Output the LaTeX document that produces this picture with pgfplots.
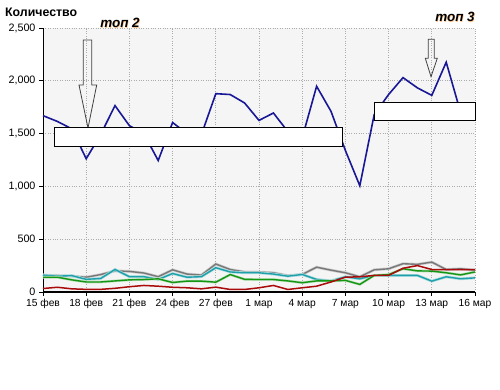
\documentclass[border=0pt]{standalone}
\usepackage{pgfplots}
\usepackage{pgfplotstable}
\pgfplotsset{compat=1.18}
\usepackage{fontspec}
\setmainfont{Liberation Sans}
\definecolor{cblue}{RGB}{24,24,150}
\definecolor{cgray}{RGB}{120,120,120}
\definecolor{cteal}{RGB}{30,160,170}
\definecolor{cgreen}{RGB}{20,150,20}
\definecolor{cred}{RGB}{170,10,10}
\definecolor{bg}{RGB}{245,245,245}
\pgfplotstableread{
d blue gray teal green red
0 1670 160 160 140 33
1 1615 155 150 140 45
2 1545 150 155 115 30
3 1262 140 120 95 25
4 1490 165 128 95 25
5 1765 200 213 105 35
6 1575 195 145 115 50
7 1500 180 145 118 62
8 1245 145 119 125 55
9 1605 210 175 90 45
10 1500 170 140 103 40
11 1490 160 145 103 30
12 1878 265 230 93 46
13 1870 213 190 165 24
14 1790 190 182 120 24
15 1625 188 182 118 40
16 1695 182 170 118 62
17 1520 155 150 105 24
18 1460 166 166 88 40
19 1948 235 119 105 55
20 1711 207 105 105 95
21 1340 182 144 110 140
22 1006 144 125 72 144
23 1680 210 157 157 157
24 1870 220 157 165 157
25 2030 268 157 220 225
26 1933 262 157 200 250
27 1862 283 103 198 213
28 2176 213 144 182 213
29 1700 220 125 162 213
30 1720 207 134 190 213
}\datatable
\begin{document}
\begin{tikzpicture}[x=1bp,y=1bp]
\path[use as bounding box] (0,0) rectangle (500,389);
\begin{axis}[
  at={(43bp,97bp)}, anchor=south west,
  scale only axis, width=432bp, height=264bp,
  xmin=0, xmax=30, ymin=0, ymax=2500,
  axis x line*=bottom, axis y line*=left,
  axis line style={black},
  x axis line style={line width=1.6bp},
  y axis line style={line width=1bp},
  axis background/.style={fill=bg},
  xtick={0,3,...,30},
  xticklabels={15 фев,18 фев,21 фев,24 фев,27 фев,1 мар,4 мар,7 мар,10 мар,13 мар,16 мар},
  ytick={0,500,1000,1500,2000,2500},
  yticklabels={0,500,{1,000},{1,500},{2,000},{2,500}},
  tick align=outside, major tick length=4bp,
  tick style={black, line width=0.8bp},
  xticklabel style={font=\fontsize{10.3}{12}\selectfont},
  yticklabel style={font=\fontsize{10.8}{12}\selectfont},
  grid=major,
  major grid style={dotted, gray!65, line width=0.7bp},
  clip=false,
]
\addplot[no markers, cgray!35, line width=2.8bp, forget plot] table[x=d,y=gray]{\datatable};
\addplot[no markers, cgray, line width=1.4bp] table[x=d,y=gray]{\datatable};
\addplot[no markers, cteal!35, line width=2.8bp, forget plot] table[x=d,y=teal]{\datatable};
\addplot[no markers, cteal, line width=1.4bp] table[x=d,y=teal]{\datatable};
\addplot[no markers, cgreen!30, line width=2.6bp, forget plot] table[x=d,y=green]{\datatable};
\addplot[no markers, cgreen, line width=1.4bp] table[x=d,y=green]{\datatable};
\addplot[no markers, cred, line width=1.5bp] table[x=d,y=red]{\datatable};
\addplot[no markers, cblue, line width=1.6bp] table[x=d,y=blue]{\datatable};
\end{axis}
% arrows and cover boxes
\draw[black!75, line width=0.8bp, fill=none] (83.3,349) -- (91.7,349) -- (91.7,304) -- (96.7,304) -- (88,261) -- (79,304) -- (83.3,304) -- cycle;
\draw[black!75, line width=0.8bp, fill=none] (428.3,349.7) -- (434.3,349.7) -- (434.3,330.7) -- (437.3,330.7) -- (431,312.3) -- (425.3,330.7) -- (428.3,330.7) -- cycle;
\draw[black, line width=0.9bp, fill=white] (54.5,242.3) rectangle (342.5,261.3);
\draw[black, line width=0.9bp, fill=white] (374.7,269) rectangle (475.3,287);
% texts
\node[anchor=west, inner sep=0pt, font=\bfseries\fontsize{12.4}{14}\selectfont] at (5,377) {Количество};
\node[inner sep=0pt, font=\bfseries\itshape\fontsize{13.5}{15}\selectfont, text=orange!45] at (120.5,365.5) {топ 2};
\node[inner sep=0pt, font=\bfseries\itshape\fontsize{13.5}{15}\selectfont] at (120,366) {топ 2};
\node[inner sep=0pt, font=\bfseries\itshape\fontsize{13.5}{15}\selectfont, text=orange!45] at (455.5,371.5) {топ 3};
\node[inner sep=0pt, font=\bfseries\itshape\fontsize{13.5}{15}\selectfont] at (455,372) {топ 3};
\end{tikzpicture}
\end{document}
